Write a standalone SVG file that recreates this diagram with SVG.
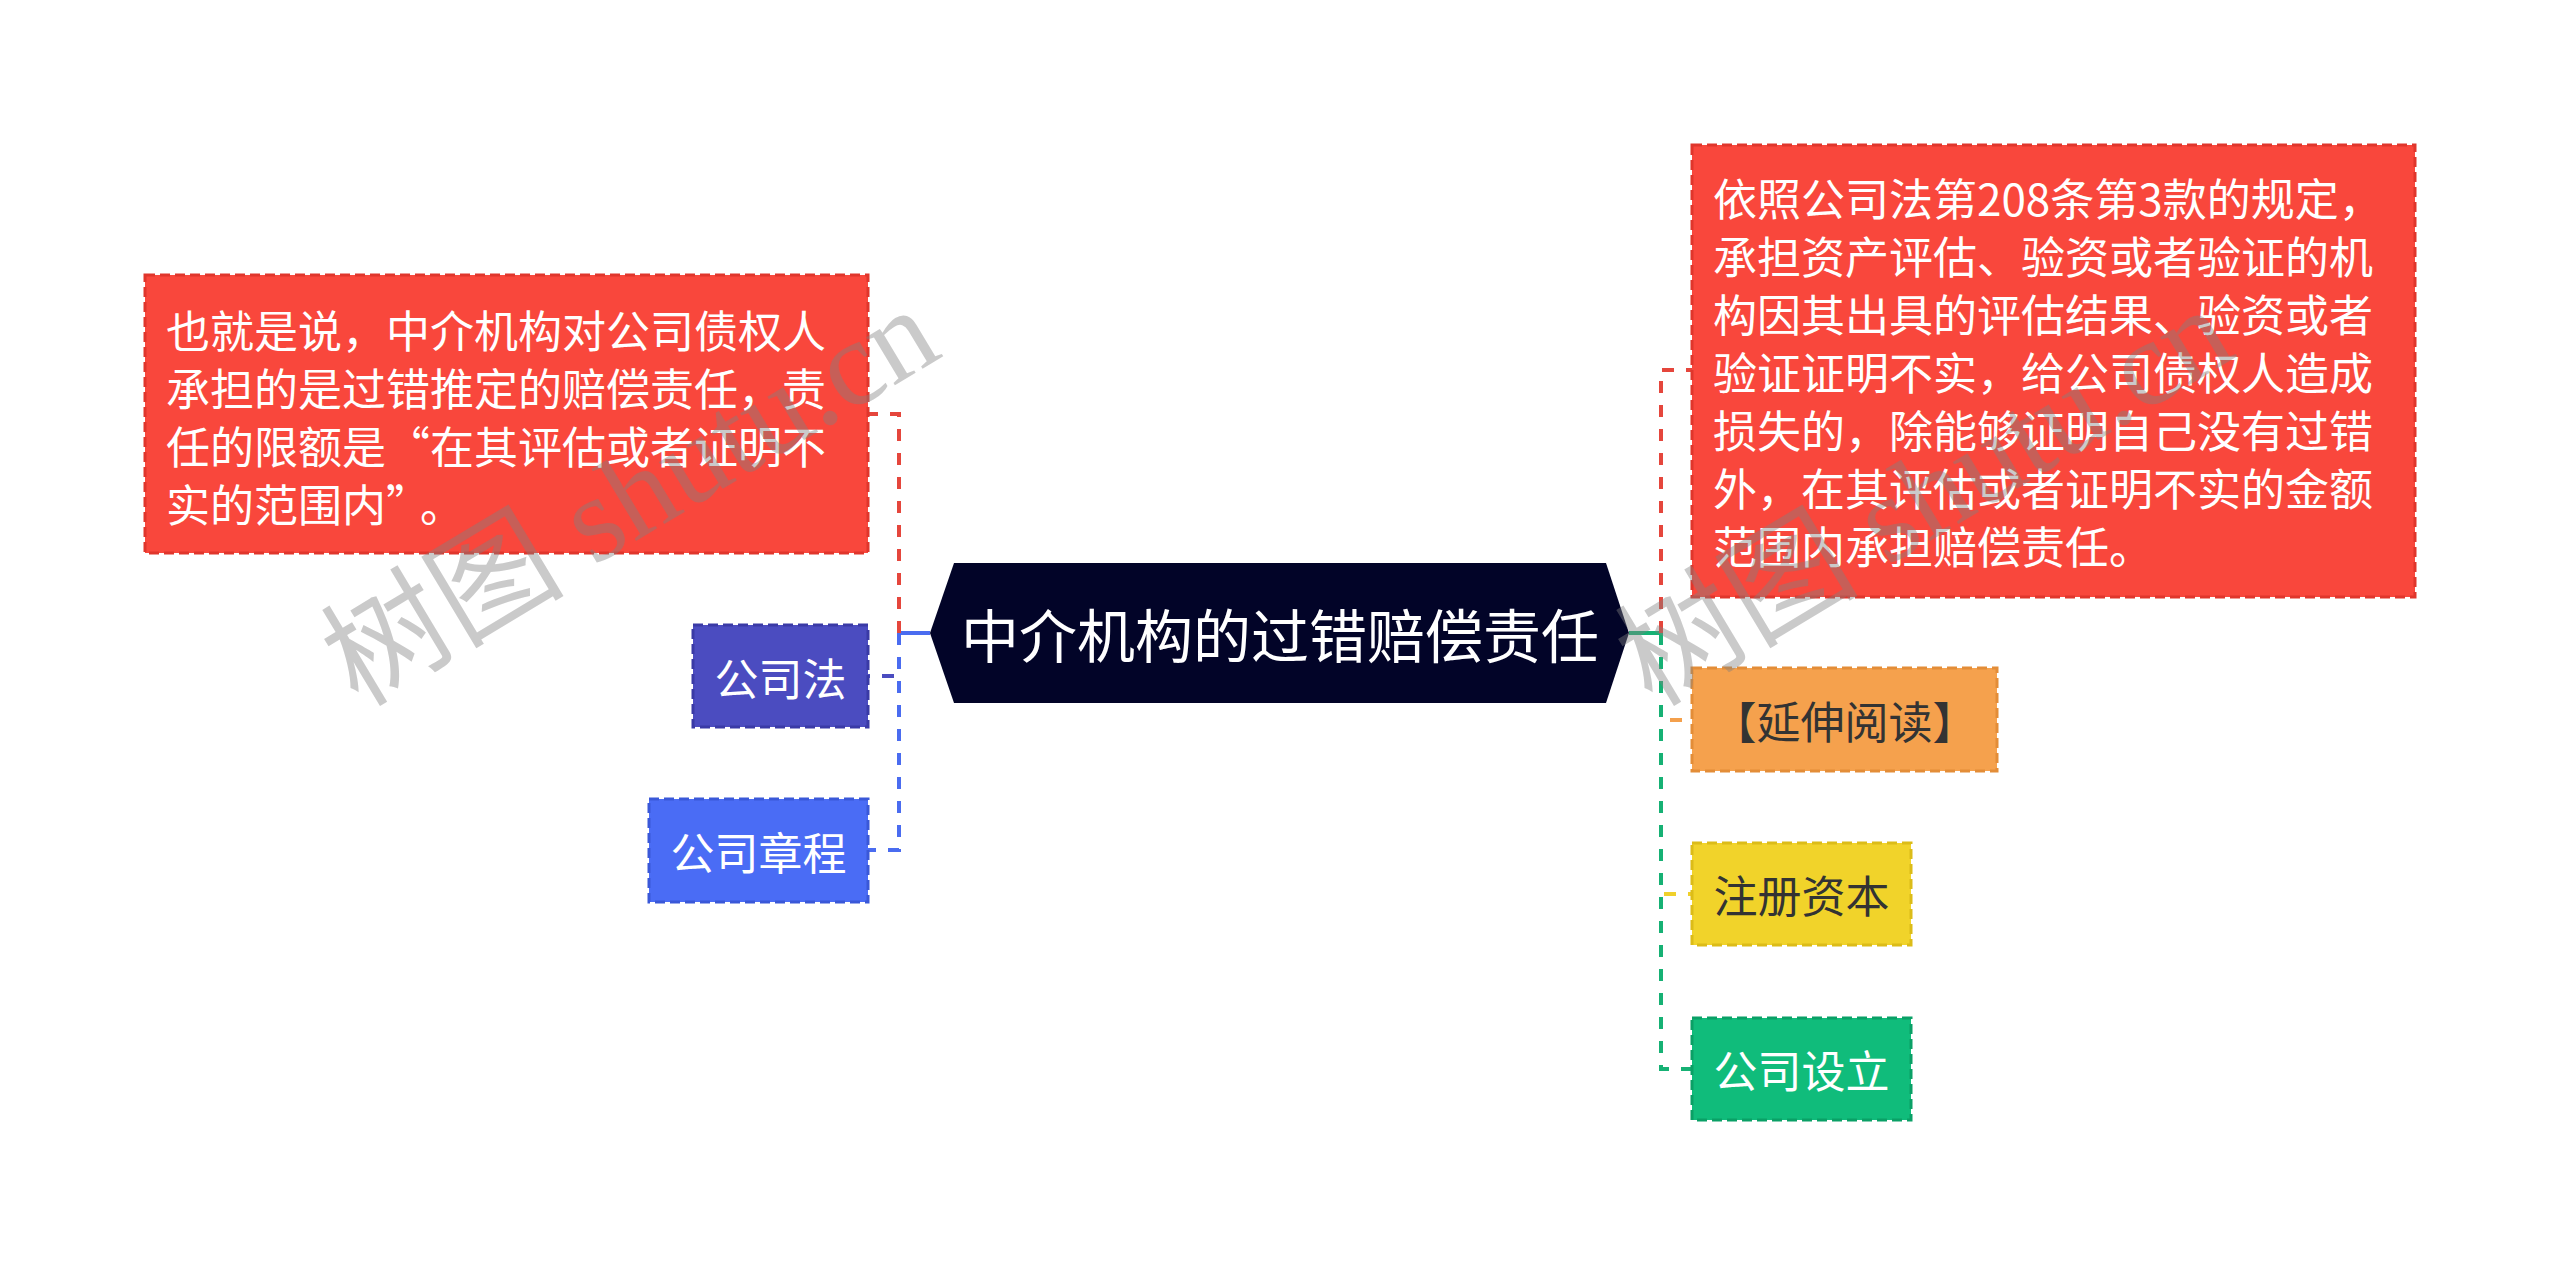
<svg xmlns="http://www.w3.org/2000/svg" width="2560" height="1265" viewBox="0 0 2560 1265">
<style>
.t{font-family:"Noto Sans CJK SC","Noto Sans",sans-serif;font-size:44px;dominant-baseline:central}
.w{fill:#ffffff}
.d{fill:#333333}
.box{stroke-width:3;stroke-dasharray:10 5}
.conn{fill:none;stroke-width:4;stroke-dasharray:12 12}
.stub{fill:none;stroke-width:4}
.wm{font-family:"Liberation Serif","Noto Sans CJK SC",serif;font-size:122px;fill:#808080;fill-opacity:0.42}
</style>
<rect width="2560" height="1265" fill="#ffffff"/>
<g id="connectors">
<path class="stub" stroke="#4a6cf0" d="M930 633 H899"/>
<path class="conn" stroke="#e5463c" d="M899 633 V414 H868"/>
<path class="conn" stroke="#4b4cc0" d="M899 633 V676 H868"/>
<path class="conn" stroke="#4a6cf0" d="M899 633 V850 H868"/>
<path class="stub" stroke="#16b174" d="M1629 633 H1661"/>
<path class="conn" stroke="#e5463c" d="M1661 633 V370 H1692"/>
<path class="conn" stroke="#f4a04c" d="M1661 633 V720 H1692"/>
<path class="conn" stroke="#f0d02a" d="M1661 633 V894 H1692"/>
<path class="conn" stroke="#16b174" d="M1661 633 V1069 H1692"/>
</g>
<g id="center">
<polygon points="930,633 954,563 1606,563 1629,633 1606,703 954,703" fill="#020428"/>
<text class="t w" x="1280" y="633" text-anchor="middle" style="font-size:58px">中介机构的过错赔偿责任</text>
</g>
<g id="node-left-note">
<rect class="box" x="145" y="275" width="723" height="278" fill="#f9473c" stroke="#e0362c"/>
<text class="t w" x="166" y="329">也就是说，中介机构对公司债权人</text>
<text class="t w" x="166" y="387">承担的是过错推定的赔偿责任，责</text>
<text class="t w" x="166" y="445">任的限额是“在其评估或者证明不</text>
<text class="t w" x="166" y="503">实的范围内”<tspan dx="12">。</tspan></text>
</g>
<g id="node-gongsifa">
<rect class="box" x="693" y="625" width="175" height="102" fill="#4b4cc0" stroke="#3a3aa6"/>
<text class="t w" x="780.5" y="677" text-anchor="middle">公司法</text>
</g>
<g id="node-zhangcheng">
<rect class="box" x="649" y="799" width="219" height="103" fill="#4a6cf5" stroke="#3a58d8"/>
<text class="t w" x="758.5" y="851" text-anchor="middle">公司章程</text>
</g>
<g id="node-right-note">
<rect class="box" x="1692" y="145" width="723" height="452" fill="#f9473c" stroke="#e0362c"/>
<text class="t w" x="1713" y="197">依照公司法第208条第3款的规定，</text>
<text class="t w" x="1713" y="255">承担资产评估、验资或者验证的机</text>
<text class="t w" x="1713" y="313">构因其出具的评估结果、验资或者</text>
<text class="t w" x="1713" y="371">验证证明不实，给公司债权人造成</text>
<text class="t w" x="1713" y="429">损失的，除能够证明自己没有过错</text>
<text class="t w" x="1713" y="487">外，在其评估或者证明不实的金额</text>
<text class="t w" x="1713" y="545">范围内承担赔偿责任。</text>
</g>
<g id="node-yanshen">
<rect class="box" x="1692" y="668" width="305" height="103" fill="#f5a14d" stroke="#e38d38"/>
<text class="t d" x="1844.5" y="720" text-anchor="middle">【延伸阅读】</text>
</g>
<g id="node-zhuce">
<rect class="box" x="1692" y="843" width="219" height="102" fill="#f1d32a" stroke="#dcbc18"/>
<text class="t d" x="1801.5" y="894" text-anchor="middle">注册资本</text>
</g>
<g id="node-sheli">
<rect class="box" x="1692" y="1018" width="219" height="102" fill="#10bc7b" stroke="#0aa066"/>
<text class="t w" x="1801.5" y="1069" text-anchor="middle">公司设立</text>
</g>
<g id="watermarks">
<text class="wm" x="358" y="708" transform="rotate(-31 358 708)">树图 shutu.cn</text>
<text class="wm" x="1652" y="708" transform="rotate(-31 1652 708)">树图 shutu.cn</text>
</g>
</svg>
